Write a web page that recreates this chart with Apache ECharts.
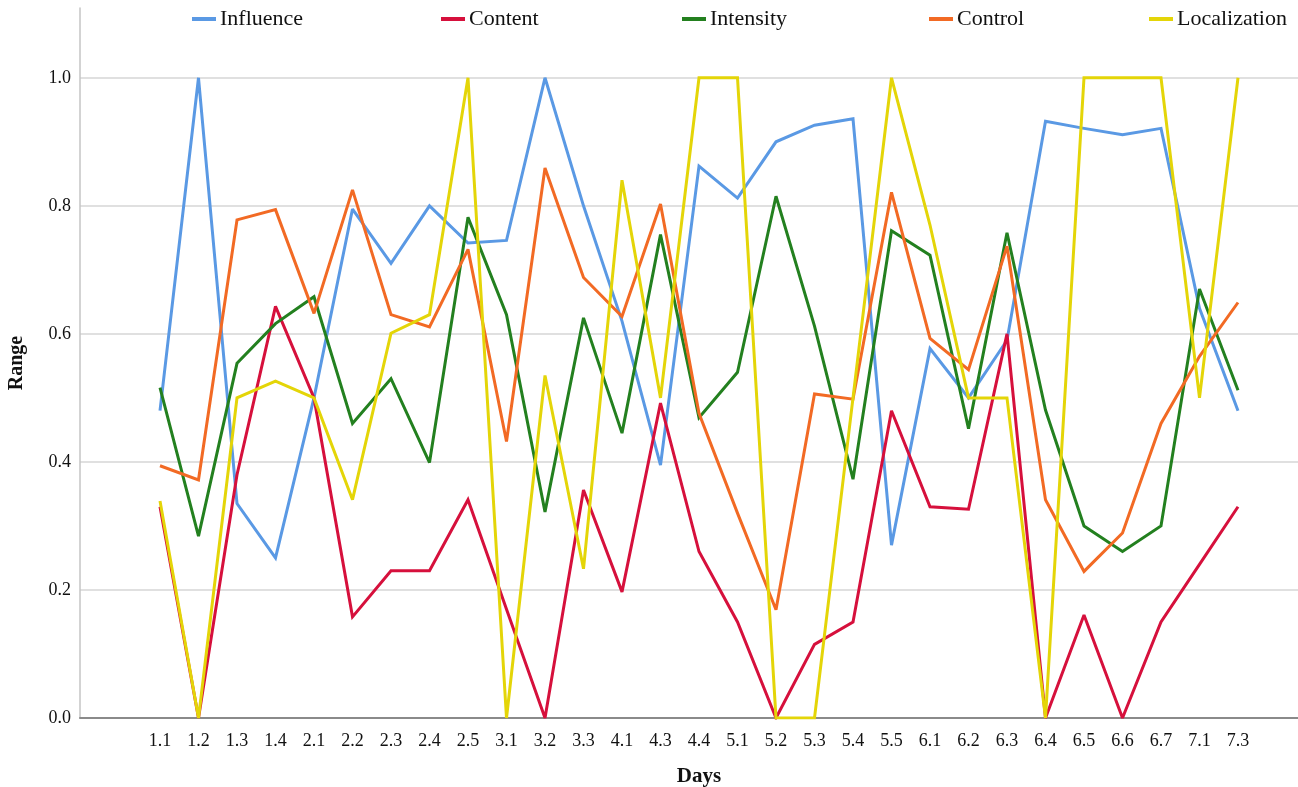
<!DOCTYPE html>
<html>
<head>
<meta charset="utf-8">
<script src="https://cdn.jsdelivr.net/npm/echarts@6/dist/echarts.min.js"></script>
<style>
html,body{margin:0;padding:0;background:#fff;}
#chart{width:1298px;height:787px;}
</style>
</head>
<body>
<div id="chart"></div>
<script>
const days = ['1.1','1.2','1.3','1.4','2.1','2.2','2.3','2.4','2.5','3.1','3.2','3.3','4.1','4.3','4.4','5.1','5.2','5.3','5.4','5.5','6.1','6.2','6.3','6.4','6.5','6.6','6.7','7.1','7.3'];
const influence    = [0.48,1.0,0.335,0.25,0.50,0.795,0.71,0.80,0.742,0.746,1.0,0.80,0.62,0.395,0.862,0.812,0.90,0.926,0.936,0.27,0.577,0.50,0.59,0.932,0.921,0.911,0.921,0.64,0.48];
const content      = [0.33,0.0,0.38,0.643,0.50,0.158,0.23,0.23,0.341,0.17,0.0,0.356,0.197,0.492,0.26,0.15,0.0,0.115,0.15,0.48,0.33,0.326,0.60,0.0,0.161,0.0,0.15,0.24,0.33];
const intensity    = [0.516,0.284,0.554,0.616,0.658,0.46,0.53,0.399,0.782,0.63,0.322,0.625,0.445,0.755,0.469,0.54,0.815,0.612,0.373,0.761,0.723,0.452,0.758,0.481,0.30,0.26,0.30,0.67,0.512];
const control      = [0.394,0.372,0.778,0.794,0.632,0.825,0.63,0.611,0.732,0.432,0.859,0.688,0.627,0.803,0.476,0.32,0.169,0.506,0.498,0.821,0.593,0.544,0.737,0.341,0.229,0.289,0.46,0.565,0.649];
const localization = [0.339,0.0,0.50,0.526,0.50,0.341,0.601,0.63,1.0,0.0,0.535,0.233,0.84,0.50,1.0,1.0,0.0,0.0,0.50,1.0,0.77,0.50,0.50,0.0,1.0,1.0,1.0,0.50,1.0];

const seriesNames = ['Influence','Content','Intensity','Control','Localization'];
const seriesData = [influence, content, intensity, control, localization];
const colors = ['#5a99e4','#d6103c','#23801f','#f26a24','#e4d508'];
const legendLeft = [192, 441, 682, 929, 1149];

const font = 'Liberation Serif, Times New Roman, serif';
const Y_MAX = 1.109;

const chart = echarts.init(document.getElementById('chart'), null, {renderer:'canvas'});
const option = {
  animation: false,
  backgroundColor: '#ffffff',
  textStyle: {fontFamily: font},
  legend: seriesNames.map((n, i) => ({
    data: [n],
    left: legendLeft[i],
    top: 8,
    padding: 0,
    icon: 'rect',
    itemWidth: 24,
    itemHeight: 4,
    textStyle: {fontFamily: font, fontSize: 22, color: '#111', padding: [0, 0, 0, -1]}
  })),
  grid: [
    {left: 80, right: 0, top: 8, bottom: 69, containLabel: false, outerBoundsMode: 'none'},
    {left: 140.75, right: 40.75, top: 8, bottom: 69, containLabel: false, outerBoundsMode: 'none'}
  ],
  xAxis: [
    {
      gridIndex: 0, type: 'value', min: 0, max: 1,
      axisLine: {show: true, lineStyle: {color: '#8a8a8a', width: 2}},
      axisTick: {show: false}, axisLabel: {show: false}, splitLine: {show: false}
    },
    {
      gridIndex: 1, type: 'category', data: days, boundaryGap: true,
      axisLine: {show: false}, axisTick: {show: false}, splitLine: {show: false},
      axisLabel: {fontFamily: font, fontSize: 18, color: '#111', margin: 14, interval: 0},
      name: 'Days', nameLocation: 'middle', nameGap: 48,
      nameTextStyle: {fontFamily: font, fontSize: 21, fontWeight: 'bold', color: '#111'}
    }
  ],
  yAxis: [
    {
      gridIndex: 0, type: 'value', min: 0, max: Y_MAX, interval: 0.2,
      axisLine: {show: true, lineStyle: {color: '#c4c4c4', width: 1.5}},
      axisTick: {show: false},
      splitLine: {show: true, showMaxLine: false, showMinLine: false, lineStyle: {color: '#d6d6d6', width: 1.5}},
      axisLabel: {fontFamily: font, fontSize: 18, color: '#111', margin: 9, showMaxLabel: false,
        formatter: v => (Math.abs(v / 0.2 - Math.round(v / 0.2)) < 1e-6 ? v.toFixed(1) : '')},
      name: 'Range', nameLocation: 'middle', nameGap: 53, nameRotate: 90,
      nameTextStyle: {fontFamily: font, fontSize: 20, fontWeight: 'bold', color: '#111'}
    },
    {gridIndex: 1, type: 'value', min: 0, max: Y_MAX, show: false, splitLine: {show: false}}
  ],
  series: seriesNames.map((n, i) => ({
    name: n, type: 'line', xAxisIndex: 1, yAxisIndex: 1,
    data: seriesData[i], symbol: 'none', showSymbol: false,
    color: colors[i],
    lineStyle: {width: 3, color: colors[i], join: 'miter', miterLimit: 2.5},
    emphasis: {disabled: true}
  }))
};
chart.setOption(option);
</script>
</body>
</html>
